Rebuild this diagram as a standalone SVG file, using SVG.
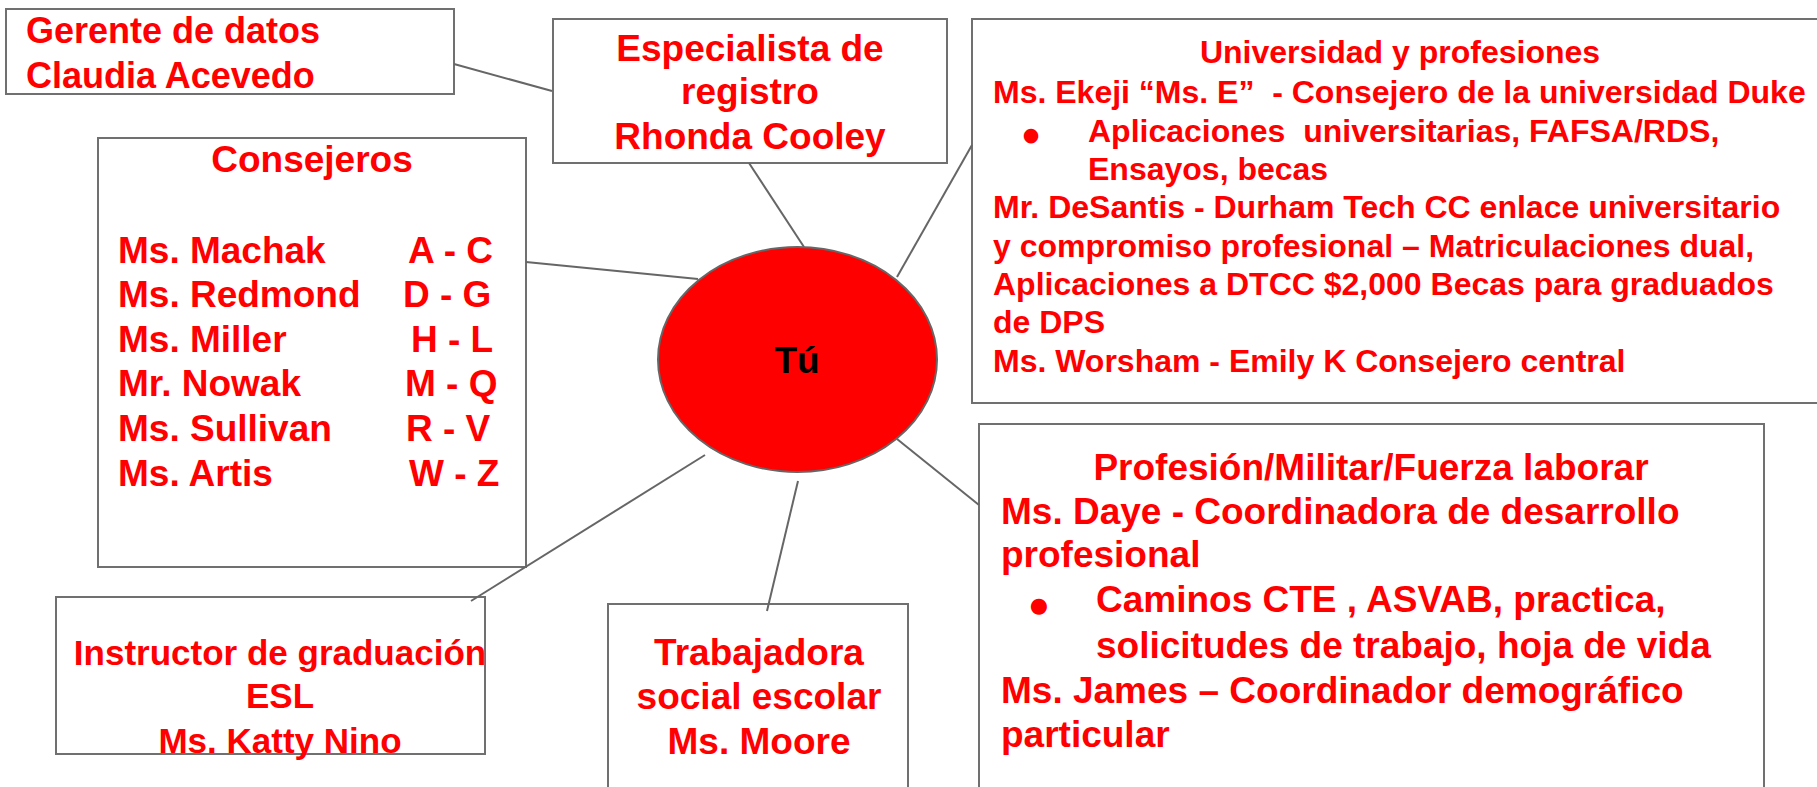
<svg xmlns="http://www.w3.org/2000/svg" width="1817" height="787" viewBox="0 0 1817 787">
<style>
.box{fill:#ffffff;stroke:#707070;stroke-width:2}
.conn line{stroke:#666666;stroke-width:2}
text{font-family:"Liberation Sans",Arial,sans-serif;font-weight:bold;fill:#ff0000;white-space:pre}
.f37{font-size:37px}
.f35{font-size:35px}
.f36{font-size:36px}
.f32{font-size:32px}
.mid{text-anchor:middle}
.bul{font-family:"DejaVu Sans",sans-serif}
</style>
<rect x="0" y="0" width="1817" height="787" fill="#ffffff"/>

<g id="node-universidad">
<rect class="box" x="972" y="19" width="860" height="384"/>
<text class="f32 mid" x="1400" y="63">Universidad y profesiones</text>
<text class="f32" x="993" y="103">Ms. Ekeji “Ms. E”  - Consejero de la universidad Duke</text>
<text class="bul" x="1031" y="141" font-size="19" text-anchor="middle">●</text>
<text class="f32" x="1088" y="142">Aplicaciones  universitarias, FAFSA/RDS,</text>
<text class="f32" x="1088" y="180">Ensayos, becas</text>
<text class="f32" x="993" y="218">Mr. DeSantis - Durham Tech CC enlace universitario</text>
<text class="f32" x="993" y="257">y compromiso profesional – Matriculaciones dual,</text>
<text class="f32" x="993" y="295">Aplicaciones a DTCC $2,000 Becas para graduados</text>
<text class="f32" x="993" y="333">de DPS</text>
<text class="f32" x="993" y="372">Ms. Worsham - Emily K Consejero central</text>
</g>

<g id="node-profesion">
<rect class="box" x="979" y="424" width="785" height="380"/>
<text class="f37 mid" x="1371" y="480">Profesión/Militar/Fuerza laborar</text>
<text class="f37" x="1001" y="524">Ms. Daye - Coordinadora de desarrollo</text>
<text class="f37" x="1001" y="567">profesional</text>
<text class="bul" x="1039" y="612" font-size="21" text-anchor="middle">●</text>
<text class="f37" x="1096" y="612">Caminos CTE , ASVAB, practica,</text>
<text class="f37" x="1096" y="658">solicitudes de trabajo, hoja de vida</text>
<text class="f37" x="1001" y="703">Ms. James – Coordinador demográfico</text>
<text class="f37" x="1001" y="747">particular</text>
</g>

<g id="node-gerente">
<rect class="box" x="6" y="9" width="448" height="85"/>
<text class="f36" x="26" y="43">Gerente de datos</text>
<text class="f36" x="26" y="88">Claudia Acevedo</text>
</g>

<g id="node-especialista">
<rect class="box" x="553" y="19" width="394" height="144"/>
<text class="f37 mid" x="750" y="61">Especialista de</text>
<text class="f37 mid" x="750" y="104">registro</text>
<text class="f37 mid" x="750" y="149">Rhonda Cooley</text>
</g>

<g id="node-consejeros">
<rect class="box" x="98" y="138" width="428" height="429"/>
<text class="f37 mid" x="312" y="172">Consejeros</text>
<text class="f37" x="118" y="263">Ms. Machak</text>
<text class="f37" x="408" y="263">A - C</text>
<text class="f37" x="118" y="307">Ms. Redmond</text>
<text class="f37" x="403" y="307">D - G</text>
<text class="f37" x="118" y="352">Ms. Miller</text>
<text class="f37" x="411" y="352">H - L</text>
<text class="f37" x="118" y="396">Mr. Nowak</text>
<text class="f37" x="405" y="396">M - Q</text>
<text class="f37" x="118" y="441">Ms. Sullivan</text>
<text class="f37" x="406" y="441">R - V</text>
<text class="f37" x="118" y="486">Ms. Artis</text>
<text class="f37" x="409" y="486">W - Z</text>
</g>

<g id="node-instructor">
<rect class="box" x="56" y="597" width="429" height="157"/>
<text class="f35 mid" x="280" y="665">Instructor de graduación</text>
<text class="f35 mid" x="280" y="708">ESL</text>
<text class="f35 mid" x="280" y="753">Ms. Katty Nino</text>
</g>

<g id="node-trabajadora">
<rect class="box" x="608" y="604" width="300" height="200"/>
<text class="f37 mid" x="759" y="665">Trabajadora</text>
<text class="f37 mid" x="759" y="709">social escolar</text>
<text class="f37 mid" x="759" y="754">Ms. Moore</text>
</g>

<g id="node-tu">
<ellipse cx="797.5" cy="359.5" rx="139.5" ry="112.5" fill="#ff0000" stroke="#666666" stroke-width="2"/>
<text x="797" y="373" text-anchor="middle" font-size="37" style="fill:#000000">Tú</text>
</g>

<g id="connectors" class="conn">
<line x1="454" y1="64" x2="552" y2="91"/>
<line x1="749" y1="163" x2="804" y2="247"/>
<line x1="526" y1="262" x2="698" y2="279"/>
<line x1="972" y1="145" x2="897" y2="277"/>
<line x1="897" y1="439" x2="979" y2="505"/>
<line x1="798" y1="481" x2="767" y2="611"/>
<line x1="705" y1="455" x2="471" y2="601"/>
</g>
</svg>
